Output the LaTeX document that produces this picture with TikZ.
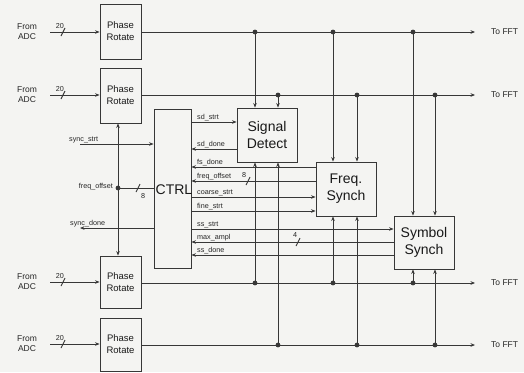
\documentclass[tikz,border=0pt]{standalone}
\usepackage{fontspec}
\setmainfont{Liberation Sans}
\usetikzlibrary{arrows.meta,calc}
\definecolor{ink}{RGB}{55,55,55}
\definecolor{bg}{RGB}{244,244,242}
\begin{document}
\begin{tikzpicture}[x=1pt,y=-1pt,
  wire/.style={draw=ink, line width=0.9pt},
  arr/.style={wire, -{Stealth[length=4.5pt,width=3.6pt]}},
  blk/.style={draw=ink, line width=0.9pt, align=center, inner sep=0pt, text=black!90},
  prbox/.style={blk, minimum width=41pt, minimum height=55pt, font=\fontsize{9.5}{12}\selectfont},
  bigbox/.style={blk, minimum width=60pt, minimum height=54pt, font=\fontsize{14}{17}\selectfont},
  sig/.style={font=\fontsize{7.2}{8}\selectfont, inner sep=0pt, anchor=base west, text=black!85},
  small/.style={font=\fontsize{7.2}{8}\selectfont, inner sep=0pt, text=black!85},
  lab/.style={font=\fontsize{8.5}{10}\selectfont, inner sep=0pt, align=center, text=black!85},
  dot/.style={fill=ink}]
\fill[bg] (0,0) rectangle (524,372);
\useasboundingbox (0,0) rectangle (524,372);

% Phase rotate boxes
\node[prbox] (pr1) at (120.5,31.5) {Phase\\Rotate};
\node[prbox] (pr2) at (120.5,95.5) {Phase\\Rotate};
\node[prbox, minimum height=52pt] (pr3) at (120.5,282) {Phase\\Rotate};
\node[prbox, minimum height=53pt] (pr4) at (120.5,344.5) {Phase\\Rotate};

% main blocks
\node[blk, minimum width=37pt, minimum height=159pt] (ctrl) at (172.5,188.5) {};
\node[font=\fontsize{14}{16}\selectfont, inner sep=0pt, text=black!90] (ctrltxt) at (174,190) {CTRL};
\node[bigbox] (sd) at (267,135) {Signal\\Detect};
\node[bigbox] (fs) at (346,189) {Freq.\\Synch};
\node[bigbox, minimum height=53pt] (ss) at (424,242.5) {Symbol\\Synch};

% inputs from ADC and outputs to FFT
\foreach \i/\y in {1/32,2/95,3/282,4/344}{
  \node[lab] (adc\i) at (27,\y) {From\\ADC};
  \coordinate (in\i) at (50,\y);
  \draw[arr] (in\i) -- (in\i -| pr\i.west);
  \draw[wire] ($(in\i)+(11,4)$) -- ++(4,-8);
  \node[small] (w\i) at (60,\y-6) {20};
}
\foreach \i/\y in {1/32,2/95,3/283,4/345}{
  \node[lab, anchor=west] (fft\i) at (491,\y) {To FFT};
  \coordinate (out\i) at (475,\y);
  \draw[arr] (pr\i.east |- out\i) -- (out\i);
}

% junctions on the four rows and verticals into the blocks
\foreach \x/\y/\b/\s in {255/32/sd/north, 278/95/sd/north, 333/32/fs/north, 357/95/fs/north, 413/32/ss/north, 435/95/ss/north,
                         255/283/sd/south, 278/345/sd/south, 333/283/fs/south, 357/345/fs/south, 413/283/ss/south, 435/345/ss/south}{
  \coordinate (j) at (\x,\y);
  \fill[dot] (j) circle (2.4pt);
  \draw[arr] (j) -- (j |- \b.\s);
}

% phase offset distribution
\coordinate (fo) at (118,188);
\draw[arr] (fo) -- (fo |- pr2.south);
\draw[arr] (fo) -- (fo |- pr3.north);
\fill[dot] (fo) circle (2.4pt);
\draw[wire] (fo) -- (fo -| ctrl.west);
\draw[wire] (136,192) -- ++(4,-8);
\node[small] (n8a) at (143,196) {8};
\node[small, anchor=east] (lfo) at (113,187) {freq\_offset};

% left signals
\coordinate (ss0) at (80,144);
\draw[arr] (ss0) -- (ss0 -| ctrl.west);
\node[sig] (lss) at (69,141.5) {sync\_strt};
\coordinate (sd0) at (80,228);
\draw[arr] (sd0 -| ctrl.west) -- (sd0);
\node[sig] (lsd) at (70,225.5) {sync\_done};

% right control signals
\foreach \y/\t/\b/\dir in {122/sd\_strt/sd/1, 149/sd\_done/sd/0, 167/fs\_done/fs/0, 181/freq\_offset/fs/0,
                          197/coarse\_strt/fs/1, 211/fine\_strt/fs/1, 229/ss\_strt/ss/1, 242/max\_ampl/ss/0, 255/ss\_done/ss/0}{
  \coordinate (c) at (ctrl.east |- 0,\y);
  \ifnum\dir=1
    \draw[arr] (c) -- (c -| \b.west);
  \else
    \draw[arr] (c -| \b.west) -- (c);
  \fi
  \node[sig] at (197,\y-3) {\t};
}
\draw[wire] (246,185) -- ++(4,-8);
\node[small] (n8b) at (244,175) {8};
\draw[wire] (296,246) -- ++(4,-8);
\node[small] (n4) at (295,235) {4};
\end{tikzpicture}
\end{document}
